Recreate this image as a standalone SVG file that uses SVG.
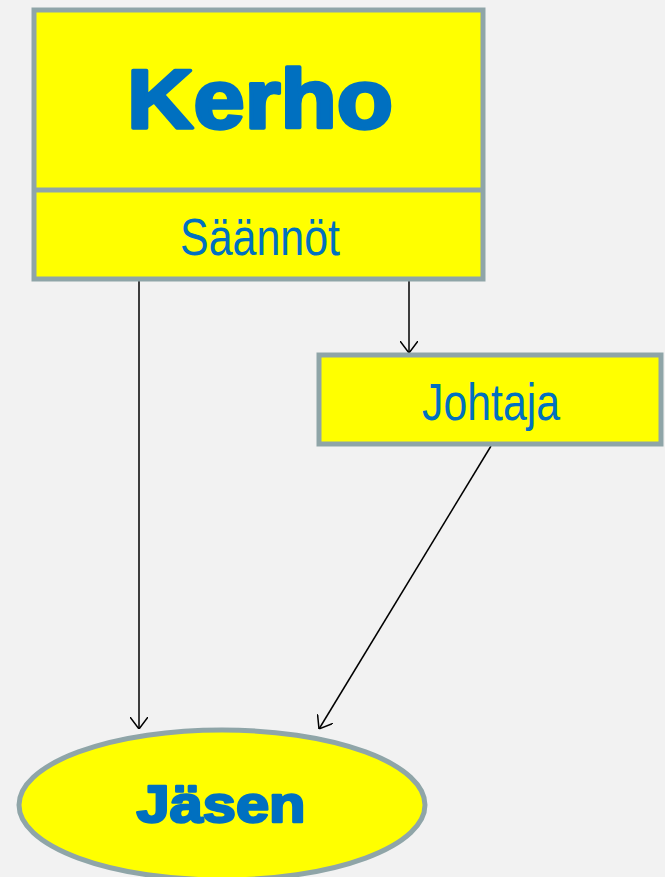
<svg xmlns="http://www.w3.org/2000/svg" width="665" height="877" viewBox="0 0 665 877">
<style>
.box{fill:#ffff00;stroke:#8fa5a8;stroke-width:5}
.lbl{fill:#0070c0;font-family:"Liberation Sans",Arial,sans-serif;text-anchor:middle}
.b{font-weight:bold;stroke:#0070c0;stroke-linejoin:round}
.conn{stroke:#000;stroke-width:1.5;fill:none}
</style>
<defs>
<marker id="arr" viewBox="0 0 12 18" refX="12" refY="9" markerWidth="12" markerHeight="18" markerUnits="userSpaceOnUse" orient="auto">
<path d="M0,0 L12,9 L0,18" fill="none" stroke="#000" stroke-width="1.5"/>
</marker>
</defs>
<rect width="665" height="877" fill="#f2f2f2"/>
<g id="connectors">
<line class="conn" x1="139" y1="281" x2="139" y2="729" marker-end="url(#arr)"/>
<line class="conn" x1="409" y1="281" x2="409" y2="353" marker-end="url(#arr)"/>
<line class="conn" x1="491" y1="446" x2="319" y2="729" marker-end="url(#arr)"/>
</g>
<g id="kerho">
<rect class="box" x="34" y="10" width="449" height="269"/>
<line x1="34" y1="190" x2="483" y2="190" stroke="#8fa5a8" stroke-width="5"/>
<text class="lbl b" x="260" y="128" font-size="84" stroke-width="3.5" textLength="266" lengthAdjust="spacingAndGlyphs">Kerho</text>
<text class="lbl" x="260" y="255" font-size="52" textLength="160" lengthAdjust="spacingAndGlyphs">Säännöt</text>
</g>
<g id="johtaja">
<rect class="box" x="319" y="355" width="342" height="89"/>
<text class="lbl" x="491" y="420" font-size="52" textLength="138" lengthAdjust="spacingAndGlyphs">Johtaja</text>
</g>
<g id="jasen">
<ellipse class="box" cx="222" cy="805" rx="203" ry="75"/>
<text class="lbl b" x="221" y="822" font-size="52" stroke-width="2.5" textLength="169" lengthAdjust="spacingAndGlyphs">Jäsen</text>
</g>
</svg>
